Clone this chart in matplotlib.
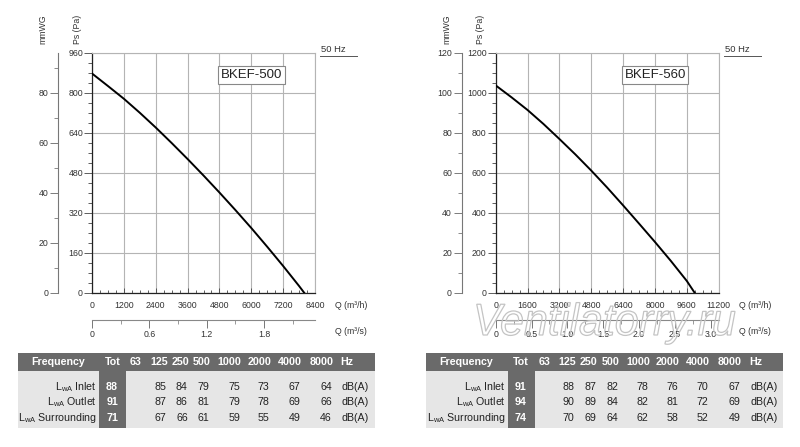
import matplotlib
matplotlib.use('Agg')
from matplotlib import pyplot as plt
from matplotlib.patches import Rectangle, PathPatch
from matplotlib.textpath import TextPath
from matplotlib.font_manager import FontProperties
from matplotlib.ticker import MultipleLocator, FixedLocator, FixedFormatter
import matplotlib.transforms as mtransforms

plt.rcParams['font.family'] = ['Liberation Sans', 'DejaVu Sans']

# fan curves (Q in m3/h, Ps in Pa)
q500 = [0, 600, 1200, 1800, 2400, 3000, 3600, 4200, 4800, 5400, 6000, 6600, 7200, 7800, 8000]
ps500 = [878, 828, 777, 721, 662, 600, 536, 470, 402, 332, 260, 185, 108, 28, 0]
q560 = [0, 800, 1600, 2400, 3200, 4000, 4800, 5600, 6400, 7200, 8000, 8800, 9600, 10000]
ps560 = [1038, 978, 915, 845, 770, 693, 612, 527, 438, 347, 255, 160, 60, 0]

qs_ticks500 = [0, 0.6, 1.2, 1.8]
qs_labels500 = ['0', '0.6', '1.2', '1.8']
qs_ticks560 = [0, 0.5, 1.0, 1.5, 2.0, 2.5, 3.0]
qs_labels560 = ['0', '0.5', '1.0', '1.5', '2.0', '2.5', '3.0']

# sound table
freq_head = ['63', '125', '250', '500', '1000', '2000', '4000', '8000']
row_names = [r'L$_{\mathregular{wA}}$ Inlet', r'L$_{\mathregular{wA}}$ Outlet',
             r'L$_{\mathregular{wA}}$ Surrounding']
tot500 = [88, 91, 71]
inlet500 = [85, 84, 79, 75, 73, 67, 64]
outlet500 = [87, 86, 81, 79, 78, 69, 66]
surr500 = [67, 66, 61, 59, 55, 49, 46]
tot560 = [91, 94, 74]
inlet560 = [88, 87, 82, 78, 76, 70, 67]
outlet560 = [90, 89, 84, 82, 81, 72, 69]
surr560 = [70, 69, 64, 62, 58, 52, 49]

W, H = 800, 447
fig = plt.figure(figsize=(8, 4.47), dpi=100)

def fx(x):
    return x / W

def fy(y):
    return 1 - y / H

GRID = '#b4b4b4'
TXT = '#333333'
FS = 6.3


def chart(x0, q, ps, qmax, qmaj, pmax, pmaj, qs_t, qs_l, name):
    ax = fig.add_axes([fx(x0), fy(293), 223 / W, 240 / H])
    ax.set_xlim(0, qmax)
    ax.set_ylim(0, pmax)
    ax.plot(q, ps, color='black', lw=1.4, zorder=5)
    ax.xaxis.set_major_locator(MultipleLocator(qmaj))
    ax.xaxis.set_minor_locator(MultipleLocator(qmaj / 4))
    ax.yaxis.set_major_locator(MultipleLocator(pmaj))
    ax.yaxis.set_minor_locator(MultipleLocator(pmaj / 4))
    ax.grid(True, which='major', color=GRID, lw=0.8)
    ax.tick_params(axis='x', which='both', direction='in', labelsize=FS, pad=6,
                   colors='#444444', labelcolor=TXT)
    ax.tick_params(axis='x', which='major', length=3.5, width=0.6)
    ax.tick_params(axis='x', which='minor', length=2.5, width=0.6)
    ax.tick_params(axis='y', which='major', length=6, width=0.6, labelsize=FS,
                   pad=0.5, colors='#444444', labelcolor=TXT)
    ax.tick_params(axis='y', which='minor', length=3, width=0.6, colors='#444444')
    for s in ['top', 'right']:
        ax.spines[s].set_color(GRID)
    for s in ['left', 'bottom']:
        ax.spines[s].set_color('#222222')
        ax.spines[s].set_linewidth(0.9)
    ax.text(0.715, 0.908, name, transform=ax.transAxes, ha='center', va='center',
            fontsize=9.5, color='#222222',
            bbox=dict(boxstyle='square,pad=0.2', fc='white', ec='#888888', lw=0.8))

    # mmWG axis
    am = ax.twinx()
    am.set_ylim(0, pmax / 10)
    am.yaxis.tick_left()
    am.spines['left'].set_position(('outward', 24.5))
    am.spines['left'].set_color('#777777')
    for s in ['right', 'top', 'bottom']:
        am.spines[s].set_visible(False)
    am.yaxis.set_major_locator(MultipleLocator(20))
    am.yaxis.set_minor_locator(MultipleLocator(10))
    am.tick_params(axis='y', which='major', length=6, width=0.6, labelsize=FS,
                   pad=1, colors='#666666', labelcolor=TXT)
    am.tick_params(axis='y', which='minor', length=3, width=0.6, colors='#777777')

    # m3/s axis
    asec = ax.twiny()
    asec.set_xlim(0, qmax / 3600)
    asec.xaxis.tick_bottom()
    asec.spines['bottom'].set_position(('outward', 19.4))
    asec.spines['bottom'].set_color('#888888')
    for s in ['right', 'top', 'left']:
        asec.spines[s].set_visible(False)
    asec.xaxis.set_major_locator(FixedLocator(qs_t))
    asec.xaxis.set_major_formatter(FixedFormatter(qs_l))
    step = qs_t[1] - qs_t[0]
    asec.xaxis.set_minor_locator(MultipleLocator(step / 2))
    asec.tick_params(axis='x', which='major', length=6, width=0.7, labelsize=FS,
                     pad=1.5, colors='#777777', labelcolor=TXT)
    asec.tick_params(axis='x', which='minor', length=3, width=0.7, colors='#999999')

    xr = x0 + 243
    fig.text(fx(xr), fy(306), 'Q (m³/h)', fontsize=FS, color=TXT, va='center')
    fig.text(fx(xr), fy(332), 'Q (m³/s)', fontsize=FS, color=TXT, va='center')
    fig.text(fx(x0 - 15), fy(29), 'Ps (Pa)', fontsize=FS, color=TXT, rotation=90,
             ha='center', va='center')
    fig.text(fx(x0 - 49), fy(29), 'mmWG', fontsize=FS, color=TXT, rotation=90,
             ha='center', va='center')
    fig.text(fx(x0 + 229), fy(49), '50 Hz', fontsize=6.8, color=TXT, va='center')
    fig.add_artist(plt.Line2D([fx(x0 + 228), fx(x0 + 265)], [fy(56), fy(56)],
                              color='#555555', lw=0.7))


def table(x0, tot, rows):
    dark = '#6a6a6a'
    fig.add_artist(Rectangle((fx(x0), fy(371)), 357 / W, 18 / H,
                             transform=fig.transFigure, fc=dark, ec='none'))
    fig.add_artist(Rectangle((fx(x0), fy(428)), 357 / W, 57 / H,
                             transform=fig.transFigure, fc='#e6e6e6', ec='none'))
    fig.add_artist(Rectangle((fx(x0 + 81), fy(428)), 27 / W, 57 / H,
                             transform=fig.transFigure, fc=dark, ec='none'))
    hy = fy(362)
    fig.text(fx(x0 + 40), hy, 'Frequency', color='white', weight='bold',
             fontsize=7.7, ha='center', va='center')
    fig.text(fx(x0 + 94.5), hy, 'Tot', color='white', weight='bold',
             fontsize=7.7, ha='center', va='center')
    rights = [123.7, 149.7, 171.3, 193, 223.7, 253, 283.7, 315.3]
    for lab, r in zip(freq_head, rights):
        fig.text(fx(x0 + r), hy, lab, color='white', weight='bold',
                 fontsize=7.7, ha='right', va='center')
    fig.text(fx(x0 + 322.7), hy, 'Hz', color='white', weight='bold',
             fontsize=7.7, ha='left', va='center')
    ys = [386.7, 401.7, 417.7]
    for i in range(3):
        y = fy(ys[i])
        fig.text(fx(x0 + 79), y, row_names[i], color='#222222', fontsize=7.7,
                 ha='right', va='center')
        fig.text(fx(x0 + 94), y, str(tot[i]), color='white', weight='bold',
                 fontsize=7.7, ha='center', va='center')
        for v, r in zip(rows[i], rights[1:]):
            fig.text(fx(x0 + r - 1.5), y, str(v), color='#222222', fontsize=7.7,
                     ha='right', va='center')
        fig.text(fx(x0 + 324), y, 'dB(A)', color='#222222', fontsize=7.7,
                 ha='left', va='center')


chart(92, q500, ps500, 8400, 1200, 960, 160, qs_ticks500, qs_labels500, 'BKEF-500')
chart(495.7, q560, ps560, 11200, 1600, 1200, 200, qs_ticks560, qs_labels560, 'BKEF-560')
table(18, tot500, [inlet500, outlet500, surr500])
table(426.5, tot560, [inlet560, outlet560, surr560])

# watermark
tp = TextPath((0, 0), 'Ventilatorry.ru', size=1,
              prop=FontProperties(family='Liberation Sans', style='italic'))
tr = mtransforms.Affine2D().scale(0.43, 0.447).translate(4.73, 1.12) + fig.dpi_scale_trans
fig.add_artist(PathPatch(tp, transform=tr, fc='none', ec='#c4c4c4', lw=0.9, zorder=10))

fig.savefig('out.png', dpi=100)
